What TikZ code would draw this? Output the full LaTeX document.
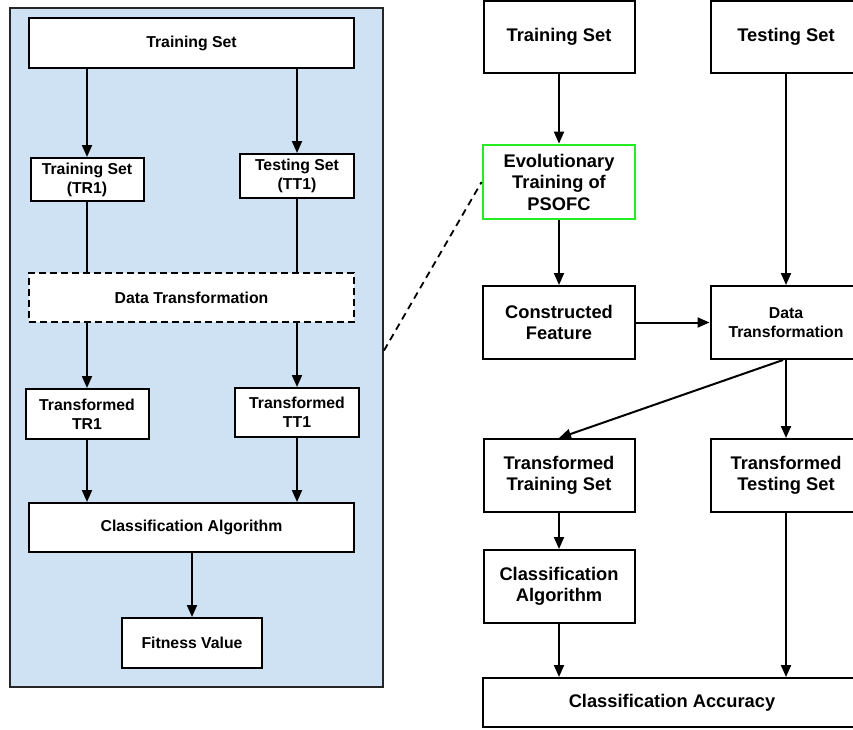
\documentclass[tikz,border=0pt]{standalone}
\usepackage{fontspec}
\setmainfont{Liberation Sans}
\usetikzlibrary{arrows.meta}
\definecolor{panelblue}{HTML}{CFE2F3}
\definecolor{evogreen}{HTML}{22EE22}
\tikzset{
  box/.style={draw=black, fill=white, line width=2pt, align=center, inner sep=0pt,
    font=\bfseries\fontsize{18.3}{21.5}\selectfont},
  smallbox/.style={box, font=\bfseries\fontsize{15.8}{19}\selectfont},
  flow/.style={line width=2pt, -{Triangle[length=12pt,width=10pt]}},
  plain/.style={line width=2pt},
}
\begin{document}
\begin{tikzpicture}[x=1pt,y=-1pt]
\useasboundingbox (0,0) rectangle (853,729);
\clip (0,0) rectangle (853,729);

% ---- left panel: fitness evaluation ----
\node[draw=black!85, fill=panelblue, line width=2pt, minimum width=373pt, minimum height=679pt, inner sep=0pt]
  (panel) at (196.5,347.5) {};

\node[smallbox, minimum width=325pt, minimum height=50pt] (ltrain) at (191.5,43) {Training Set};
\node[smallbox, minimum width=113pt, minimum height=43pt] (ltr1) at (87,179.5) {Training Set\\(TR1)};
\node[smallbox, minimum width=114pt, minimum height=44pt] (ltt1) at (297,176) {Testing Set\\(TT1)};
\node[smallbox, dashed, dash pattern=on 7pt off 4pt, minimum width=325pt, minimum height=49pt] (ldt) at (191.5,297.5) {Data Transformation};
\node[smallbox, minimum width=123pt, minimum height=50pt] (lttr) at (87,414) {Transformed\\TR1};
\node[smallbox, minimum width=124pt, minimum height=49pt] (lttt) at (297,412.5) {Transformed\\TT1};
\node[smallbox, minimum width=325pt, minimum height=49pt] (lclass) at (191.5,527.5) {Classification Algorithm};
\node[smallbox, minimum width=140pt, minimum height=50pt] (lfit) at (192,643) {Fitness Value};

\draw[flow] (ltr1.north |- ltrain.south) -- (ltr1.north);
\draw[flow] (ltt1.north |- ltrain.south) -- (ltt1.north);
\draw[plain] (ltr1.south) -- (ltr1.south |- ldt.north);
\draw[plain] (ltt1.south) -- (ltt1.south |- ldt.north);
\draw[flow] (lttr.north |- ldt.south) -- (lttr.north);
\draw[flow] (lttt.north |- ldt.south) -- (lttt.north);
\draw[flow] (lttr.south) -- (lttr.south |- lclass.north);
\draw[flow] (lttt.south) -- (lttt.south |- lclass.north);
\draw[flow] (lfit.north |- lclass.south) -- (lfit.north);

% ---- right side: overall workflow ----
\node[box, minimum width=151pt, minimum height=72pt] (rtrain) at (559,37) {Training Set};
\node[box, minimum width=151pt, minimum height=72pt] (rtest) at (786,37) {Testing Set};
\node[box, draw=evogreen, line width=2.8pt, minimum width=152pt, minimum height=74pt] (revo) at (559,182) {Evolutionary\\Training of\\PSOFC};
\node[box, minimum width=152pt, minimum height=73pt] (rcons) at (559,322.5) {Constructed\\Feature};
\node[smallbox, minimum width=151pt, minimum height=73pt] (rdt) at (786,322.5) {Data\\Transformation};
\node[box, minimum width=151pt, minimum height=73pt] (rttr) at (559,475.5) {Transformed\\Training Set};
\node[box, minimum width=151pt, minimum height=73pt] (rtts) at (786,475.5) {Transformed\\Testing Set};
\node[box, minimum width=151pt, minimum height=73pt] (rclass) at (559,586.5) {Classification\\Algorithm};
\node[box, minimum width=378pt, minimum height=49pt] (racc) at (672,702.5) {Classification Accuracy};

\draw[flow] (rtrain.south) -- (revo.north);
\draw[flow] (revo.south) -- (rcons.north);
\draw[flow] (rtest.south) -- (rdt.north);
\draw[flow] (rcons.east) -- (rdt.west);
\draw[flow] ([xshift=-3pt]rdt.south) -- (rttr.north);
\draw[flow] (rdt.south) -- (rtts.north);
\draw[flow] (rttr.south) -- (rclass.north);
\draw[flow] (rclass.south) -- (rclass.south |- racc.north);
\draw[flow] (rtts.south) -- (rtts.south |- racc.north);

% zoom line from the panel to the evolutionary training step
\draw[line width=1.8pt, dashed, dash pattern=on 7pt off 5pt] ([yshift=-3pt]panel.east) -- (revo.west);
\end{tikzpicture}
\end{document}
